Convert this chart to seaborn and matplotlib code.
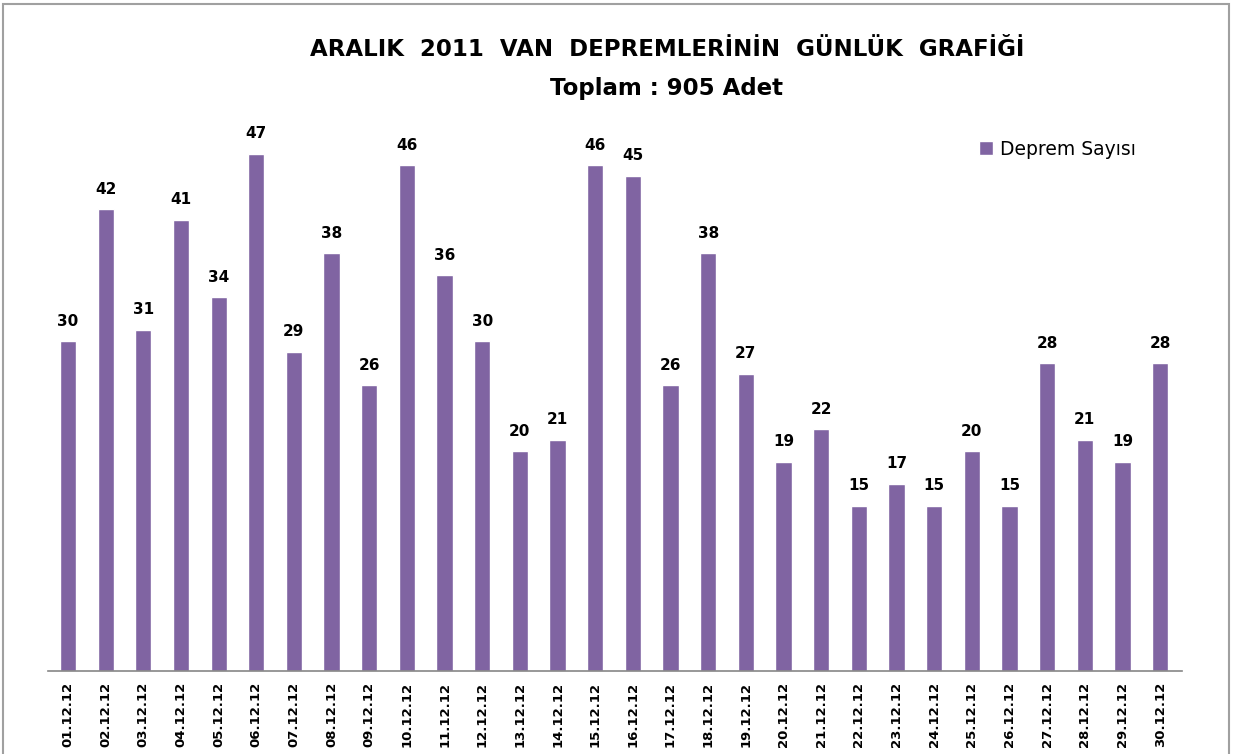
import matplotlib
matplotlib.use("Agg")
import matplotlib.pyplot as plt
import matplotlib.patches as mpatches
import seaborn as sns
import pandas as pd

days = [f"{d:02d}.12.12" for d in range(1, 31)]
counts = [30, 42, 31, 41, 34, 47, 29, 38, 26, 46, 36, 30, 20, 21, 46, 45, 26, 38, 27, 19,
          22, 15, 17, 15, 20, 15, 28, 21, 19, 28]
series_name = "Deprem Sayısı"
title_line1 = "ARALIK  2011  VAN  DEPREMLERİNİN  GÜNLÜK  GRAFİĞİ"
title_line2 = "Toplam : 905 Adet"

df = pd.DataFrame({"Gün": days, "Sayı": counts, "Seri": series_name})

sns.set_theme(style="white")
plt.rcParams['font.family'] = ['DejaVu Sans']
plt.rcParams['text.color'] = 'black'
color = "#8064A2"

fig = plt.figure(figsize=(12.33, 7.54), dpi=100)
ax = fig.add_axes([48/1233, 83/754, (1182-48)/1233, (671-121)/754])

sns.barplot(data=df, x="Gün", y="Sayı", hue="Seri", palette=[color], width=0.43,
            ax=ax, saturation=1, legend=True)

ax.set_ylim(0, 50)
ax.set_xlim(-0.53, 29.58)
ax.set_xlabel("")
ax.set_ylabel("")
ax.set_yticks([])
for s in ["left", "top", "right"]:
    ax.spines[s].set_visible(False)
ax.spines["bottom"].set_color("#868686")
ax.spines["bottom"].set_linewidth(1.2)
ax.tick_params(axis="x", length=0, pad=8)
plt.setp(ax.get_xticklabels(), rotation=90, fontsize=9.5, fontweight="bold",
         va="top", ha="center", color="black")

for container in ax.containers:
    ax.bar_label(container, padding=9, fontsize=11, fontweight="bold", color="black")

leg = ax.legend(loc="upper left", bbox_to_anchor=(914/1134, 1.0 - 2/550), frameon=False,
                fontsize=13.5, handlelength=0.75, handleheight=0.75, handletextpad=0.35)
for t in leg.get_texts():
    t.set_color("black")

fig.text(667/1233, 1 - 50/754, title_line1, ha="center", va="center", fontsize=16.5,
         fontweight="bold", color="black")
fig.text(667/1233, 1 - 88/754, title_line2, ha="center", va="center", fontsize=16.5,
         fontweight="bold", color="black")

border = mpatches.Rectangle((3/1233, -0.05), 1226/1233, 1.05 - 4/754, transform=fig.transFigure,
                            fill=False, edgecolor="#A0A0A0", linewidth=1.5)
fig.patches.append(border)

fig.savefig("out.png", dpi=100, facecolor="white")
